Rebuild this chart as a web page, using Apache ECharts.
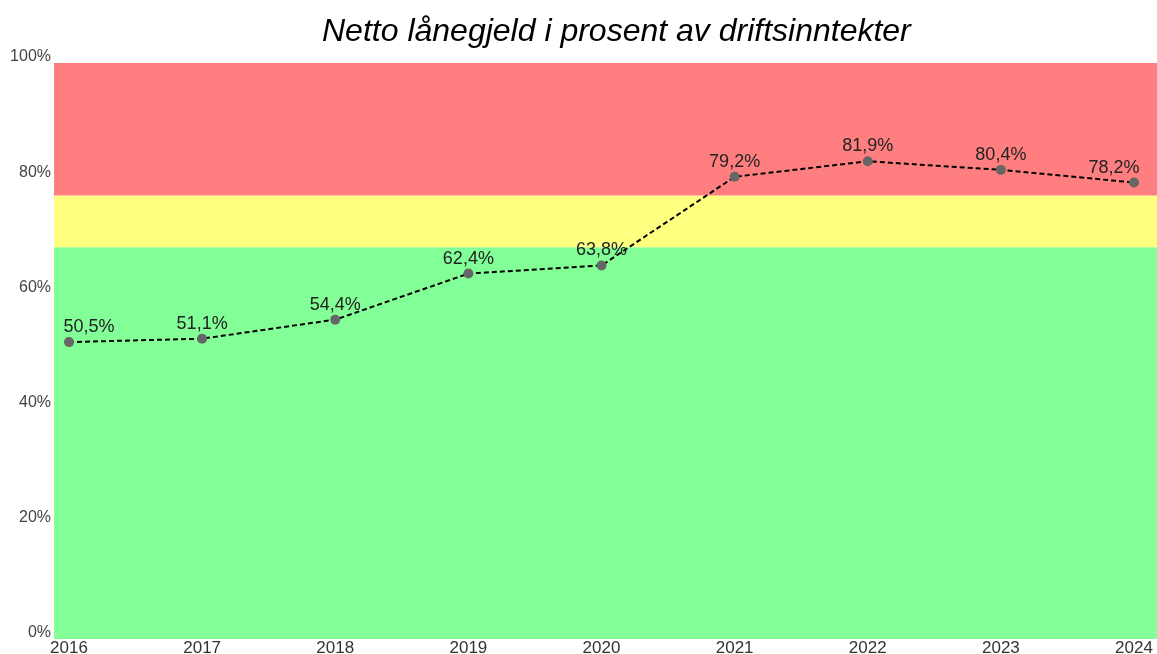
<!DOCTYPE html>
<html>
<head>
<meta charset="utf-8">
<script src="https://cdn.jsdelivr.net/npm/echarts@6/dist/echarts.min.js"></script>
<style>
  html, body { margin: 0; padding: 0; background: #fff; }
  #chart { width: 1157px; height: 654px; }
</style>
</head>
<body>
<div id="chart"></div>
<script>
var years = ['2016', '2017', '2018', '2019', '2020', '2021', '2022', '2023', '2024'];
var values = [50.5, 51.1, 54.4, 62.4, 63.8, 79.2, 81.9, 80.4, 78.2];
// band limits: green up to 67, yellow up to 76, red above
var bandLimits = [-1, 67, 76, 99];
var bandColors = ['#82ff97', '#ffff80', '#ff7f80'];

var chart = echarts.init(document.getElementById('chart'));
var font = 'Liberation Sans, Arial, sans-serif';

var bands = [];
for (var i = 0; i < bandColors.length; i++) {
  bands.push([
    { yAxis: bandLimits[i], itemStyle: { color: bandColors[i], opacity: 1 } },
    { yAxis: bandLimits[i + 1] }
  ]);
}

var lineData = values.map(function(v, i) {
  var item = { value: v };
  if (i == 0) item.label = { offset: [20, 0] };
  if (i == values.length - 1) item.label = { offset: [-20, 0] };
  return item;
});

var option = {
  animation: false,
  title: {
    text: 'Netto lånegjeld i prosent av driftsinntekter',
    left: 317,
    top: 11,
    textStyle: {
      fontFamily: font,
      fontStyle: 'italic',
      fontWeight: 'normal',
      fontSize: 32,
      color: '#000'
    }
  },
  grid: [
    { left: 69, right: 23, top: 57, bottom: 21, outerBoundsMode: 'none' },
    { left: 54, right: 0, top: 63, bottom: 15, outerBoundsMode: 'none' }
  ],
  xAxis: [
    {
      gridIndex: 0,
      type: 'category',
      data: years,
      boundaryGap: false,
      axisLine: { show: false },
      axisTick: { show: false },
      splitLine: { show: false },
      axisLabel: { fontFamily: font, fontSize: 17, color: '#333', margin: 7 }
    },
    { gridIndex: 1, type: 'value', min: 0, max: 1, show: false }
  ],
  yAxis: [
    {
      gridIndex: 0,
      type: 'value',
      min: 0,
      max: 100,
      interval: 20,
      axisLine: { show: false },
      axisTick: { show: false },
      splitLine: { show: false },
      axisLabel: {
        fontFamily: font, fontSize: 16, color: '#444', margin: 18,
        padding: [7, 0, 0, 0],
        formatter: '{value}%'
      }
    },
    { gridIndex: 1, type: 'value', min: bandLimits[0], max: bandLimits[3], show: false }
  ],
  series: [
    {
      type: 'line',
      xAxisIndex: 1,
      yAxisIndex: 1,
      data: [],
      z: 0,
      silent: true,
      markArea: { silent: true, data: bands }
    },
    {
      type: 'line',
      xAxisIndex: 0,
      yAxisIndex: 0,
      data: lineData,
      z: 3,
      symbol: 'circle',
      symbolSize: 10,
      itemStyle: { color: '#666' },
      lineStyle: { color: '#000', width: 2, type: [5, 3] },
      label: {
        show: true,
        position: 'top',
        distance: 1,
        fontFamily: font,
        fontSize: 18,
        color: '#222',
        formatter: function(p) { return String(p.value).replace('.', ',') + '%'; }
      }
    }
  ]
};
chart.setOption(option);
</script>
</body>
</html>
